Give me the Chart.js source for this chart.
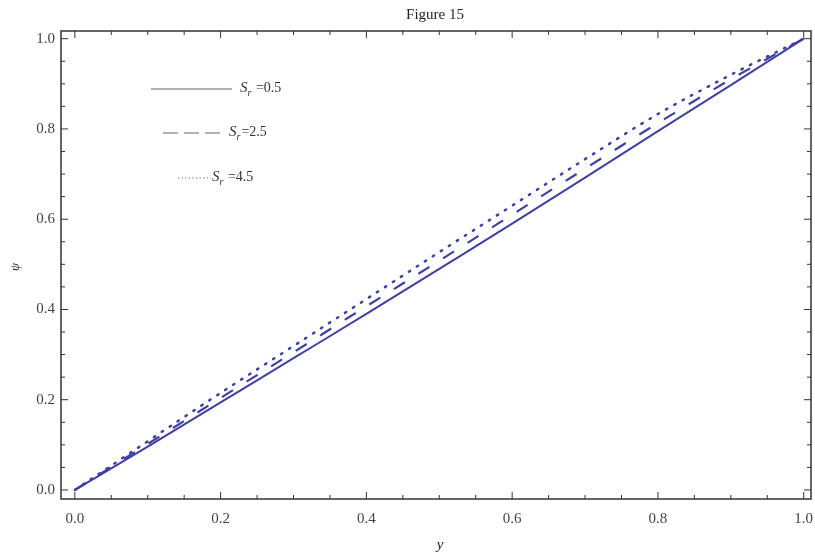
<!DOCTYPE html>
<html>
<head>
<meta charset="utf-8">
<script src="https://cdn.jsdelivr.net/npm/chart.js@4"></script>
<style>
  html, body { margin: 0; padding: 0; background: #fff; }
  #wrap { width: 815px; height: 557px; position: relative; }
</style>
</head>
<body>
<div id="wrap"><canvas id="chart"></canvas></div>
<script>
// values
const xValues = [0, 0.1, 0.2, 0.3, 0.4, 0.5, 0.6, 0.7, 0.8, 0.9, 1.0];
const psiSr05 = [0, 0.096, 0.194, 0.292, 0.390, 0.490, 0.590, 0.692, 0.795, 0.897, 1.0];
const psiSr25 = [0, 0.102, 0.204, 0.305, 0.407, 0.508, 0.610, 0.712, 0.813, 0.910, 1.0];
const psiSr45 = [0, 0.108, 0.215, 0.319, 0.423, 0.527, 0.630, 0.733, 0.833, 0.920, 1.0];
const tickLabels = [0.0, 0.2, 0.4, 0.6, 0.8, 1.0];
const legendLabels = [' =0.5', '=2.5', ' =4.5'];

const lineColor = '#40409e';
const frameColor = '#333333';
const textColor = '#444444';
const serif = '"Liberation Serif", "DejaVu Serif", serif';

function toPoints(ys) {
  return xValues.map((x, i) => ({ x, y: ys[i] }));
}

// frame, inward ticks, labels and the hand-drawn legend
const framePlugin = {
  id: 'frame',
  afterDraw(chart) {
    const { ctx, chartArea: a, scales } = chart;
    const xs = scales.x, ys = scales.y;
    ctx.save();

    ctx.strokeStyle = frameColor;
    ctx.lineWidth = 1.5;
    ctx.strokeRect(a.left, a.top, a.right - a.left, a.bottom - a.top);

    ctx.lineWidth = 1;
    for (let i = 0; i <= 20; i++) {
      const v = i * 0.05;
      const len = i % 4 === 0 ? 7 : 4;
      const px = xs.getPixelForValue(v);
      const py = ys.getPixelForValue(v);
      ctx.beginPath();
      ctx.moveTo(px, a.bottom); ctx.lineTo(px, a.bottom - len);
      ctx.moveTo(px, a.top); ctx.lineTo(px, a.top + len);
      ctx.moveTo(a.left, py); ctx.lineTo(a.left + len, py);
      ctx.moveTo(a.right, py); ctx.lineTo(a.right - len, py);
      ctx.stroke();
    }

    ctx.fillStyle = textColor;
    ctx.font = '15px ' + serif;
    ctx.textAlign = 'center';
    ctx.textBaseline = 'middle';
    tickLabels.forEach(v => {
      ctx.fillText(v.toFixed(1), xs.getPixelForValue(v), a.bottom + 20);
    });
    ctx.textAlign = 'right';
    tickLabels.forEach(v => {
      ctx.fillText(v.toFixed(1), a.left - 6, ys.getPixelForValue(v));
    });

    // title and axis names
    ctx.fillStyle = '#222';
    ctx.textAlign = 'center';
    ctx.font = '15px ' + serif;
    ctx.fillText('Figure 15', 435, 15);
    ctx.font = 'italic 15px ' + serif;
    ctx.fillText('y', 440, 545);
    ctx.save();
    ctx.translate(16, 267);
    ctx.rotate(-Math.PI / 2);
    ctx.font = 'italic 13px ' + serif;
    ctx.fillText('ψ', 0, 0);
    ctx.restore();

    // legend
    const rows = [
      { x1: 151, x2: 232, y: 89, dash: [], tx: 240 },
      { x1: 163, x2: 222, y: 133, dash: [15, 6], tx: 229 },
      { x1: 178, x2: 211, y: 178, dash: [1.2, 2.4], tx: 212 }
    ];
    rows.forEach((r, i) => {
      ctx.strokeStyle = '#666';
      ctx.lineWidth = 1;
      ctx.setLineDash(r.dash);
      ctx.beginPath();
      ctx.moveTo(r.x1, r.y); ctx.lineTo(r.x2, r.y);
      ctx.stroke();
      ctx.setLineDash([]);
      ctx.fillStyle = '#333';
      ctx.textAlign = 'left';
      ctx.font = 'italic 15px ' + serif;
      ctx.fillText('S', r.tx, r.y - 1);
      const sw = ctx.measureText('S').width;
      ctx.font = 'italic 10px ' + serif;
      ctx.fillText('r', r.tx + sw, r.y + 4);
      const rw = ctx.measureText('r').width;
      ctx.font = '14px ' + serif;
      ctx.fillText(legendLabels[i], r.tx + sw + rw + 1, r.y - 1);
    });

    ctx.restore();
  }
};

const ctx = document.getElementById('chart').getContext('2d');
new Chart(ctx, {
  type: 'line',
  data: {
    datasets: [
      { label: 'Sr=0.5', data: toPoints(psiSr05), borderColor: lineColor, borderWidth: 2, pointRadius: 0, cubicInterpolationMode: 'monotone' },
      { label: 'Sr=2.5', data: toPoints(psiSr25), borderColor: lineColor, borderWidth: 2.2, borderDash: [13, 16], pointRadius: 0, cubicInterpolationMode: 'monotone' },
      { label: 'Sr=4.5', data: toPoints(psiSr45), borderColor: lineColor, borderWidth: 2.5, borderDash: [1.5, 8], borderCapStyle: 'round', pointRadius: 0, cubicInterpolationMode: 'monotone' }
    ]
  },
  options: {
    responsive: true,
    maintainAspectRatio: false,
    animation: false,
    layout: { padding: { left: 61, top: 31, right: 4, bottom: 58 } },
    plugins: { legend: { display: false }, tooltip: { enabled: false } },
    scales: {
      x: { type: 'linear', min: -0.019, max: 1.01, display: false },
      y: { type: 'linear', min: -0.02, max: 1.017, display: false }
    }
  },
  plugins: [framePlugin]
});
</script>
</body>
</html>
